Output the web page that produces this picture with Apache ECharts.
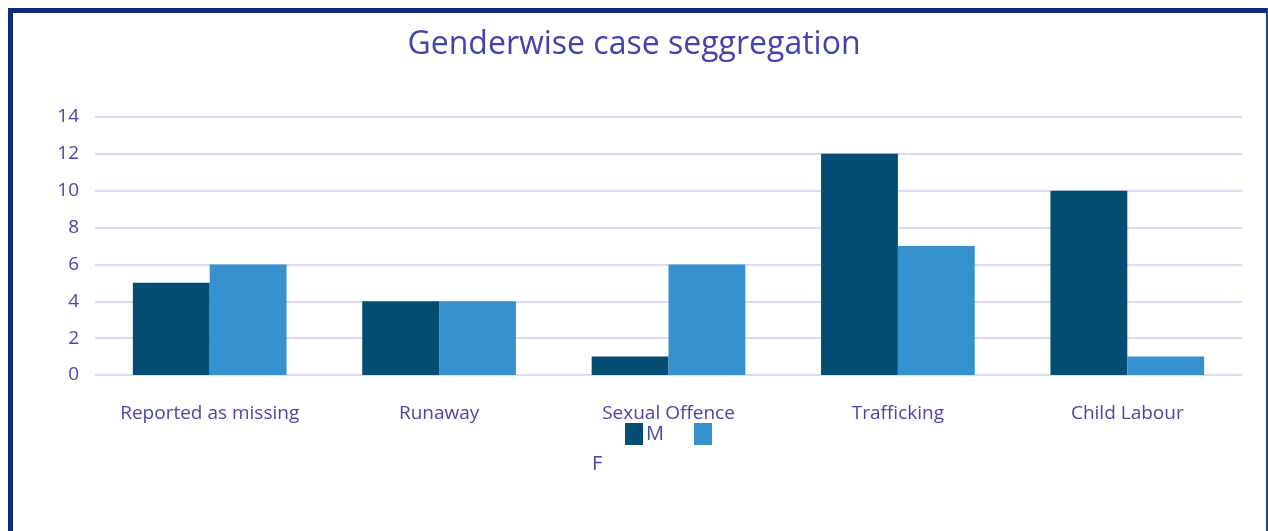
<!DOCTYPE html>
<html lang="en">
<head>
    <meta charset="UTF-8">
    <title>Genderwise case seggregation</title>
    <script src="https://cdn.jsdelivr.net/npm/echarts@6/dist/echarts.min.js" type="text/javascript"></script>
    <style>
        body { margin: 0; background: #fff; }
        #main { position: absolute; left: 0; top: 0; width: 1268px; height: 531px; }
        #frame { position: absolute; left: 8px; top: 8px; width: 1253px; height: 530px;
                 border-top: 5px solid #0b2c78; border-left: 5px solid #0b2c78; border-right: 2px solid #2a3f86;
                 pointer-events: none; }
    </style>
</head>
<body>
<div id="main"></div>
<div id="frame"></div>
<script>
    var categories = ['Reported as missing', 'Runaway', 'Sexual Offence', 'Trafficking', 'Child Labour'];
    var maleCases = [5, 4, 1, 12, 10];
    var femaleCases = [6, 4, 6, 7, 1];
    var yTicks = [0, 2, 4, 6, 8, 10, 12, 14];

    var textColor = '#4646ae';
    var font = '"Open Sans"';

    var myChart = echarts.init(document.getElementById('main'));

    var option = {
        animation: false,
        title: {
            text: 'Genderwise case seggregation',
            left: 'center',
            top: 24,
            textStyle: { color: '#4343ad', fontSize: 32, fontWeight: 'normal', fontFamily: font }
        },
        legend: {
            left: 620,
            top: 418,
            itemWidth: 18,
            itemHeight: 22,
            itemGap: 30,
            icon: 'rect',
            data: ['M', 'F'],
            formatter: function (name) { return name === 'M' ? 'M' : ''; },
            textStyle: { color: textColor, fontSize: 20, fontFamily: font, padding: [2, 0, 0, -2] }
        },
        graphic: [{
            type: 'text',
            left: 592,
            top: 454,
            style: { text: 'F', fill: textColor, fontSize: 20, fontFamily: font }
        }],
        grid: { left: 95, right: 26, top: 117, bottom: 156 },
        xAxis: {
            type: 'category',
            data: categories,
            axisLine: { show: false },
            axisTick: { show: false },
            axisLabel: { color: textColor, fontSize: 19, fontFamily: font, margin: 29, interval: 0 }
        },
        yAxis: {
            type: 'value',
            min: yTicks[0],
            max: yTicks[yTicks.length - 1],
            interval: 2,
            axisLine: { show: false },
            axisTick: { show: false },
            axisLabel: { color: textColor, fontSize: 19, fontFamily: font, margin: 16 },
            splitLine: { lineStyle: { color: '#dcd8f6', width: 2 } }
        },
        series: [
            {
                name: 'M',
                type: 'bar',
                data: maleCases,
                barGap: '0%',
                barCategoryGap: '33%',
                itemStyle: { color: '#034e72' }
            },
            {
                name: 'F',
                type: 'bar',
                data: femaleCases,
                itemStyle: { color: '#3592cf' }
            }
        ]
    };
    myChart.setOption(option);
</script>
</body>
</html>
